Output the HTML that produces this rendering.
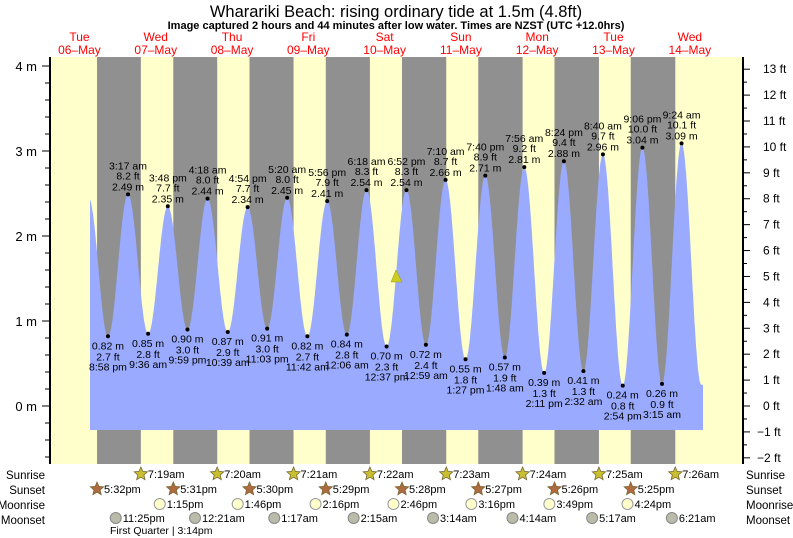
<!DOCTYPE html>
<html><head><meta charset="utf-8"><style>
html,body{margin:0;padding:0;background:#fff;}
svg{display:block;font-family:"Liberation Sans",sans-serif;}
</style></head><body>
<svg id="s" width="793" height="538" xmlns="http://www.w3.org/2000/svg"></svg>
<script>
const S=document.getElementById('s');
let h='';
const X0=41.3,K=3.179;
const X=t=>X0+t*K;
const Y=m=>406-m*85;
h+='<text x="396" y="17" font-size="16.5" text-anchor="middle" fill="#000">Wharariki Beach: rising  ordinary tide at 1.5m (4.8ft)</text>';
h+='<text x="396" y="29" font-size="11" font-weight="bold" text-anchor="middle">Image captured 2 hours and 44 minutes after low water. Times are NZST (UTC +12.0hrs)</text>';
const days=[['Tue','06'],['Wed','07'],['Thu','08'],['Fri','09'],['Sat','10'],['Sun','11'],['Mon','12'],['Tue','13'],['Wed','14']];
days.forEach((d,i)=>{const x=X(12+24*i);
h+=`<text x="${x}" y="41" font-size="12" fill="#f00" text-anchor="middle">${d[0]}</text><text x="${x}" y="54" font-size="12" fill="#f00" text-anchor="middle">${d[1]}\u2013May</text>`;});
h+='<rect x="50" y="57" width="693" height="407" fill="#ffffcc"/>';
const srise=[7+19/60,7+20/60,7+21/60,7+22/60,7+23/60,7+24/60,7+25/60,7+26/60];
const sset=[17+32/60,17+31/60,17+30/60,17+29/60,17+28/60,17+27/60,17+26/60,17+25/60];
for(let i=0;i<8;i++){const a=X(24*i+sset[i]),b=Math.min(X(24*(i+1)+srise[i]),743);
h+=`<rect x="${a}" y="57" width="${b-a}" height="407" fill="#909090"/>`;}
const ex=[[14.9,2.45],[20.97,.82],[27.28,2.49],[33.6,.85],[39.8,2.35],[45.98,.90],[52.3,2.44],[58.65,.87],[64.9,2.34],[71.05,.91],[77.33,2.45],[83.7,.82],[89.93,2.41],[96.1,.84],[102.3,2.54],[108.62,.70],[114.87,2.54],[120.98,.72],[127.17,2.66],[133.45,.55],[139.67,2.71],[145.8,.57],[151.93,2.81],[158.18,.39],[164.4,2.88],[170.53,.41],[176.67,2.96],[182.9,.24],[189.1,3.04],[195.25,.26],[201.4,3.09],[207.6,.25]];
function ht(t){for(let i=0;i<ex.length-1;i++){const[a,ha]=ex[i],[b,hb]=ex[i+1];if(t>=a&&t<=b){const f=(t-a)/(b-a);return ha+(hb-ha)*(1-Math.cos(Math.PI*f))/2;}}return ex[ex.length-1][1];}
const t0=(90-X0)/K,t1=(703-X0)/K;
let p=`M90,430`;for(let t=t0;t<=t1;t+=0.1)p+=`L${X(t).toFixed(1)},${Y(ht(t)).toFixed(1)}`;
p+=`L703,${Y(ht(t1)).toFixed(1)}L703,430Z`;
h+=`<path d="${p}" fill="#99aaff"/>`;
const lab=[['8:58 pm','2.7',.82,20.97],['3:17 am','8.2',2.49,27.28],['9:36 am','2.8',.85,33.6],['3:48 pm','7.7',2.35,39.8],['9:59 pm','3.0',.90,45.98],['4:18 am','8.0',2.44,52.3],['10:39 am','2.9',.87,58.65],['4:54 pm','7.7',2.34,64.9],['11:03 pm','3.0',.91,71.05],['5:20 am','8.0',2.45,77.33],['11:42 am','2.7',.82,83.7],['5:56 pm','7.9',2.41,89.93],['12:06 am','2.8',.84,96.1],['6:18 am','8.3',2.54,102.3],['12:37 pm','2.3',.70,108.62],['6:52 pm','8.3',2.54,114.87],['12:59 am','2.4',.72,120.98],['7:10 am','8.7',2.66,127.17],['1:27 pm','1.8',.55,133.45],['7:40 pm','8.9',2.71,139.67],['1:48 am','1.9',.57,145.8],['7:56 am','9.2',2.81,151.93],['2:11 pm','1.3',.39,158.18],['8:24 pm','9.4',2.88,164.4],['2:32 am','1.3',.41,170.53],['8:40 am','9.7',2.96,176.67],['2:54 pm','0.8',.24,182.9],['9:06 pm','10.0',3.04,189.1],['3:15 am','0.9',.26,195.25],['9:24 am','10.1',3.09,201.4]];
lab.forEach(([tm,ft,m,t],i)=>{const x=X(t),y=Y(m);
h+=`<circle cx="${x}" cy="${y}" r="2" fill="#000"/>`;
const ms=m.toFixed(2)+' m';
if(m>1.5){h+=`<text font-size="10.5" text-anchor="middle" fill="#000"><tspan x="${x}" y="${y-25}">${tm}</tspan><tspan x="${x}" y="${y-15}">${ft} ft</tspan><tspan x="${x}" y="${y-4}">${ms}</tspan></text>`;}
else{h+=`<text font-size="10.5" text-anchor="middle" fill="#000"><tspan x="${x}" y="${y+13}">${ms}</tspan><tspan x="${x}" y="${y+24}">${ft} ft</tspan><tspan x="${x}" y="${y+34}">${tm}</tspan></text>`;}});
h+='<polygon points="396,270 391,282 402,282" fill="#cccc22" stroke="#999900" stroke-width="0.5"/>';
h+='<line x1="50" y1="57" x2="50" y2="464" stroke="#000" stroke-width="2"/>';
h+='<line x1="743" y1="57" x2="743" y2="464" stroke="#000" stroke-width="2"/>';
for(let v=-0.6;v<=4.21;v+=0.2){const y=Y(v);if(y<57||y>464)continue;const maj=Math.abs(v-Math.round(v))<0.01;
h+=`<line x1="${maj?42:45}" y1="${y}" x2="50" y2="${y}" stroke="#000"/>`;
if(maj)h+=`<text x="37" y="${y+5}" font-size="13" text-anchor="end">${Math.round(v)} m</text>`;}
for(let f=-2;f<=13;f+=0.5){const y=406-f*0.3048*85;const maj=f%1==0;
h+=`<line x1="743" y1="${y}" x2="${maj?750:747}" y2="${y}" stroke="#000"/>`;
if(maj)h+=`<text x="${f<0?757:763}" y="${y+4}" font-size="12">${f<0?'\u2212'+(-f):f} ft</text>`;}
const rows=[['Sunrise',475],['Sunset',490],['Moonrise',505],['Moonset',520]];
rows.forEach(([n,y])=>{h+=`<text x="45" y="${y+4}" font-size="11.5" text-anchor="end">${n}</text><text x="746" y="${y+4}" font-size="11.5">${n}</text>`;});
function star(x,y,c){let pts=[];for(let i=0;i<10;i++){const r=i%2?3.2:7,a=-Math.PI/2+i*Math.PI/5;pts.push((x+r*Math.cos(a)).toFixed(1)+','+(y+r*Math.sin(a)).toFixed(1));}return `<polygon points="${pts.join(' ')}" fill="${c}" stroke="#776633" stroke-width="0.8"/>`;}
const sr=['7:19am','7:20am','7:21am','7:22am','7:23am','7:24am','7:25am','7:26am'];
sr.forEach((s,i)=>{const x=X(24*(i+1)+srise[i]);h+=star(x,474,'#c8c030')+`<text x="${x+7}" y="478" font-size="11">${s}</text>`;});
const ss=['5:32pm','5:31pm','5:30pm','5:29pm','5:28pm','5:27pm','5:26pm','5:25pm'];
ss.forEach((s,i)=>{const x=X(24*i+sset[i]);h+=star(x,489,'#b06a40')+`<text x="${x+7}" y="493" font-size="11">${s}</text>`;});
const mr=[[37.25,'1:15pm'],[61.77,'1:46pm'],[86.27,'2:16pm'],[110.77,'2:46pm'],[135.27,'3:16pm'],[159.82,'3:49pm'],[184.4,'4:24pm']];
mr.forEach(([t,s])=>{const x=X(t);h+=`<circle cx="${x}" cy="504" r="5.5" fill="#ffffcc" stroke="#999"/><text x="${x+7}" y="508" font-size="11">${s}</text>`;});
const mset=[[23.42,'11:25pm'],[48.35,'12:21am'],[73.28,'1:17am'],[98.25,'2:15am'],[123.23,'3:14am'],[148.23,'4:14am'],[173.28,'5:17am'],[198.35,'6:21am']];
mset.forEach(([t,s])=>{const x=X(t);h+=`<circle cx="${x}" cy="518" r="5.5" fill="#bbbbaa" stroke="#888"/><text x="${x+7}" y="522" font-size="11">${s}</text>`;});
h+='<text x="110" y="534" font-size="10.5">First Quarter | 3:14pm</text>';
S.innerHTML=h;
</script>
</body></html>
